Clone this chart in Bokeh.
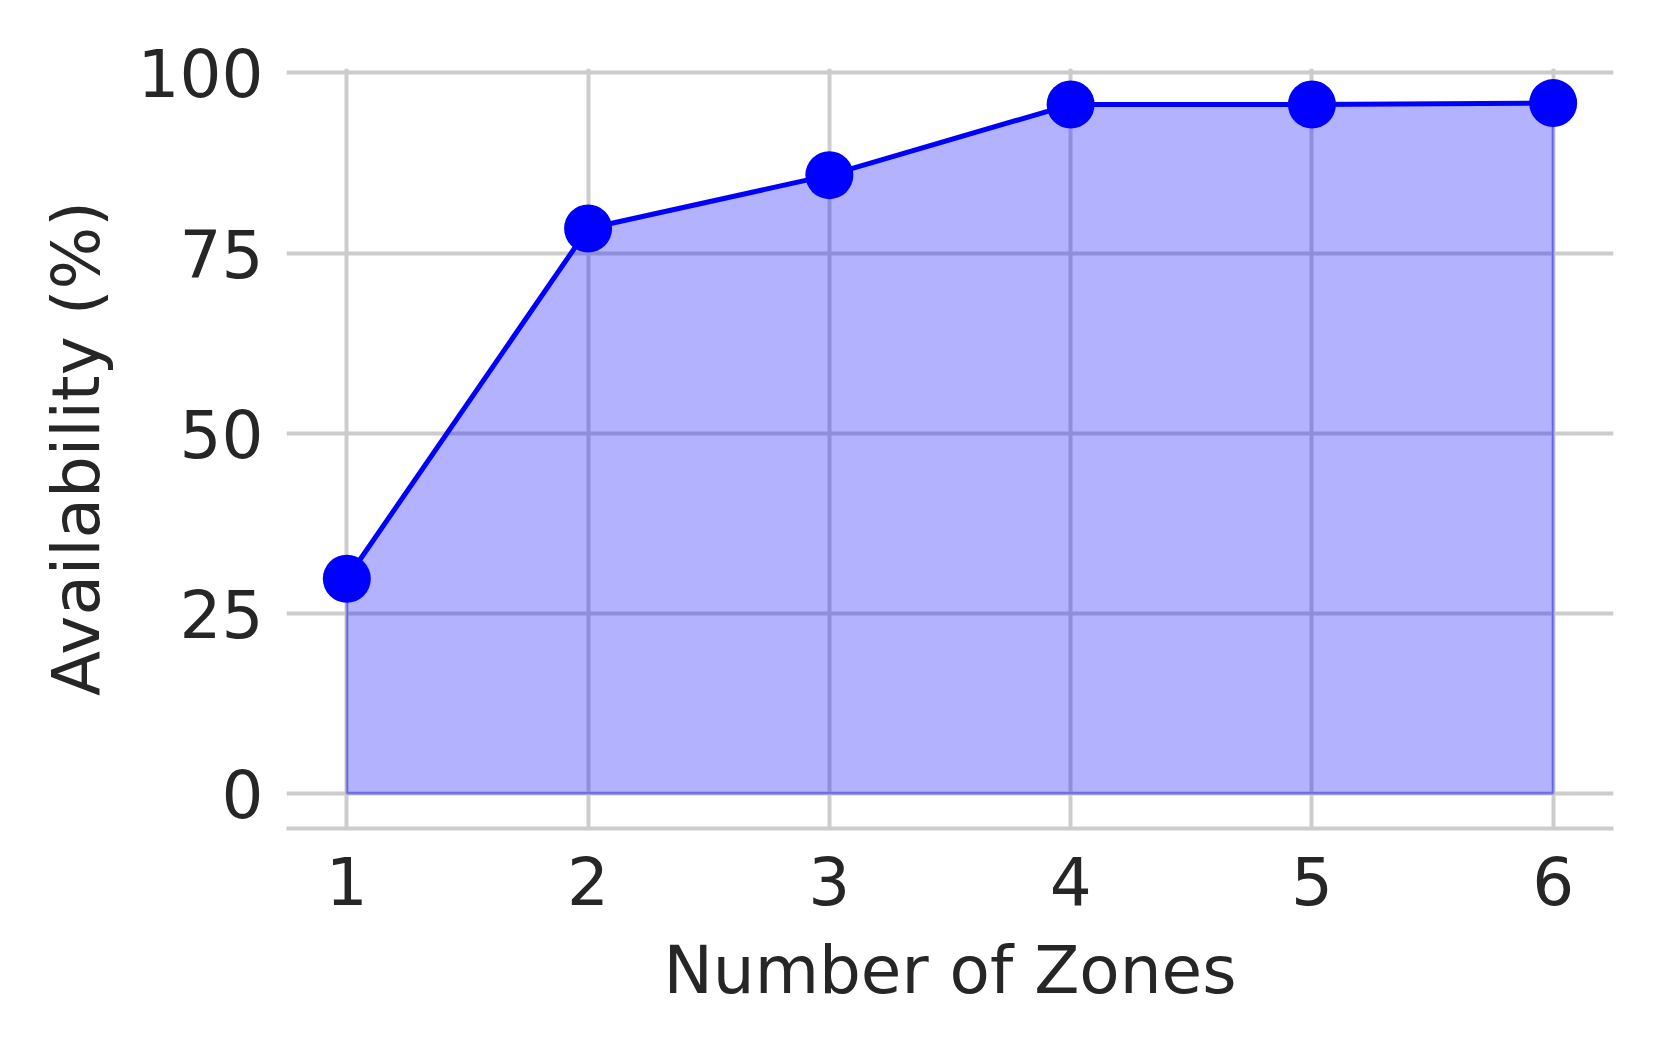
from bokeh.plotting import figure
from bokeh.models import Range1d, FixedTicker
from bokeh.embed import file_html
from bokeh.resources import INLINE

zones = [1, 2, 3, 4, 5, 6]
availability = [29.8, 78.4, 85.8, 95.6, 95.6, 95.8]
x_ticks = [1, 2, 3, 4, 5, 6]
y_ticks = [0, 25, 50, 75, 100]

FONT = "DejaVu Sans"
TXT = "#262626"
GRID = "#cccccc"

p = figure(output_backend="svg", toolbar_location=None,
           frame_width=1327, frame_height=760,
           min_border_left=286, min_border_top=68, min_border_right=40, min_border_bottom=150,
           x_range=Range1d(0.75, 6.25), y_range=Range1d(-4.85, 100.6))

p.outline_line_color = None
p.background_fill_color = "white"
p.border_fill_color = "white"

# fill under curve
poly_x = zones + [zones[-1], zones[0]]
poly_y = availability + [0, 0]
p.patch(poly_x, poly_y, fill_color="blue", fill_alpha=0.3,
        line_color="blue", line_alpha=0.3, line_width=2.5)
p.line(zones, availability, line_color="blue", line_width=5)
p.scatter(zones, availability, size=48, fill_color="blue", line_color="blue", line_width=0)

for ax in (p.xaxis[0], p.yaxis[0]):
    ax.major_tick_line_color = None
    ax.minor_tick_line_color = None
    ax.major_label_text_font = FONT
    ax.major_label_text_font_size = "66px"
    ax.major_label_text_color = TXT
    ax.axis_label_text_font = FONT
    ax.axis_label_text_font_size = "66px"
    ax.axis_label_text_font_style = "normal"
    ax.axis_label_text_color = TXT

p.xaxis.ticker = FixedTicker(ticks=x_ticks)
p.yaxis.ticker = FixedTicker(ticks=y_ticks)
p.xaxis.axis_label = "Number of Zones"
p.yaxis.axis_label = "Availability (%)"
p.xaxis.axis_line_color = GRID
p.xaxis.axis_line_width = 4
p.yaxis.axis_line_color = None
p.xaxis.major_label_standoff = 21
p.xaxis.axis_label_standoff = 24
p.yaxis.major_label_standoff = 17
p.yaxis.axis_label_standoff = 20

p.xgrid.grid_line_color = GRID
p.xgrid.grid_line_width = 4
p.ygrid.grid_line_color = GRID
p.ygrid.grid_line_width = 4

open("out.html", "w").write(file_html(p, INLINE))
